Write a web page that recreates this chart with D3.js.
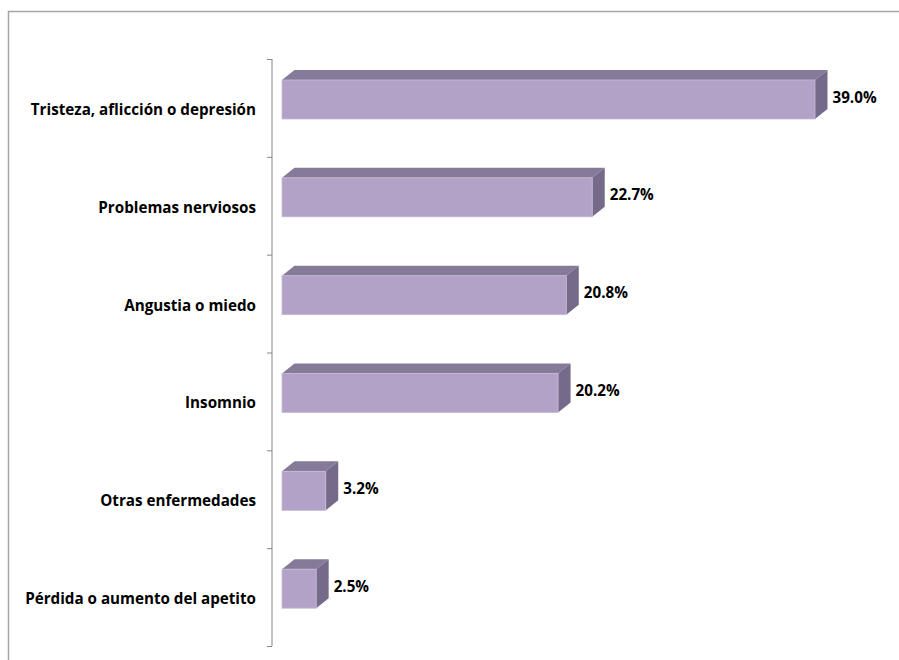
<!DOCTYPE html>
<html>
<head>
<meta charset="utf-8">
<script src="https://cdn.jsdelivr.net/npm/d3@7"></script>
<style>
  html, body { margin: 0; padding: 0; background: #fff; }
  svg { display: block; }
</style>
</head>
<body>
<svg id="chart" width="899" height="660"></svg>
<script>
// Síntomas reportados (%)
const categories = [
  "Tristeza, aflicción o depresión",
  "Problemas nerviosos",
  "Angustia o miedo",
  "Insomnio",
  "Otras enfermedades",
  "Pérdida o aumento del apetito"
];
const values = [39.0, 22.7, 20.8, 20.2, 3.2, 2.5];
const valueLabels = ["39.0%", "22.7%", "20.8%", "20.2%", "3.2%", "2.5%"];

const svg = d3.select("#chart");
const font = "'Open Sans', sans-serif";
const fontSize = 15.2;

// outer chart frame (top and left edges visible)
svg.append("path")
  .attr("d", "M8.5,660 V11.5 H899")
  .attr("fill", "none")
  .attr("stroke", "#a6a6a6")
  .attr("stroke-width", 1.5);

const y = d3.scaleBand().domain(categories).range([59, 646]).paddingInner(0);
const x = d3.scaleLinear().domain([0, 45]).range([282, 897]);

const axisX = 272;
const depthX = 12.5, depthY = 10;
const faceOffset = 21, faceH = 39;

// category axis
const axisG = svg.append("g");
axisG.append("line")
  .attr("x1", axisX).attr("x2", axisX)
  .attr("y1", y.range()[0]).attr("y2", y.range()[1])
  .attr("stroke", "#868686").attr("stroke-width", 1);
const tickPos = categories.map(c => y(c)).concat([y.range()[1]]);
axisG.selectAll("line.tick").data(tickPos).enter().append("line")
  .attr("class", "tick")
  .attr("x1", axisX - 5).attr("x2", axisX)
  .attr("y1", d => d + 0.5).attr("y2", d => d + 0.5)
  .attr("stroke", "#868686").attr("stroke-width", 1);

axisG.selectAll("text.cat").data(categories).enter().append("text")
  .attr("class", "cat")
  .attr("x", 256)
  .attr("y", d => y(d) + y.bandwidth() / 2 + 3)
  .attr("text-anchor", "end")
  .attr("dominant-baseline", "middle")
  .attr("font-family", font)
  .attr("font-weight", "bold")
  .attr("font-size", fontSize)
  .attr("fill", "#000")
  .text(d => d);

// 3D bars
const data = categories.map((c, i) => ({ c, v: values[i], label: valueLabels[i] }));
const bars = svg.selectAll("g.bar").data(data).enter().append("g").attr("class", "bar");

bars.each(function(d) {
  const g = d3.select(this);
  const x0 = x(0), x1 = x(d.v);
  const y0 = y(d.c) + faceOffset, y1 = y0 + faceH;
  // top face
  g.append("path")
    .attr("d", `M${x0},${y0} L${x0 + depthX},${y0 - depthY} L${x1 + depthX},${y0 - depthY} L${x1},${y0} Z`)
    .attr("fill", "#867a99");
  // side face
  g.append("path")
    .attr("d", `M${x1},${y0} L${x1 + depthX},${y0 - depthY} L${x1 + depthX},${y1 - depthY} L${x1},${y1} Z`)
    .attr("fill", "#766a8a");
  // front face
  g.append("rect")
    .attr("x", x0).attr("y", y0)
    .attr("width", x1 - x0).attr("height", faceH)
    .attr("fill", "#b3a2c7")
    .attr("stroke", "#c6b9d6").attr("stroke-width", 0.8);
  // value label
  g.append("text")
    .attr("x", x1 + depthX + 5)
    .attr("y", y0 + faceH / 2 - 1)
    .attr("dominant-baseline", "middle")
    .attr("font-family", font)
    .attr("font-weight", "bold")
    .attr("font-size", fontSize)
    .attr("fill", "#000")
    .text(d.label);
});
</script>
</body>
</html>
